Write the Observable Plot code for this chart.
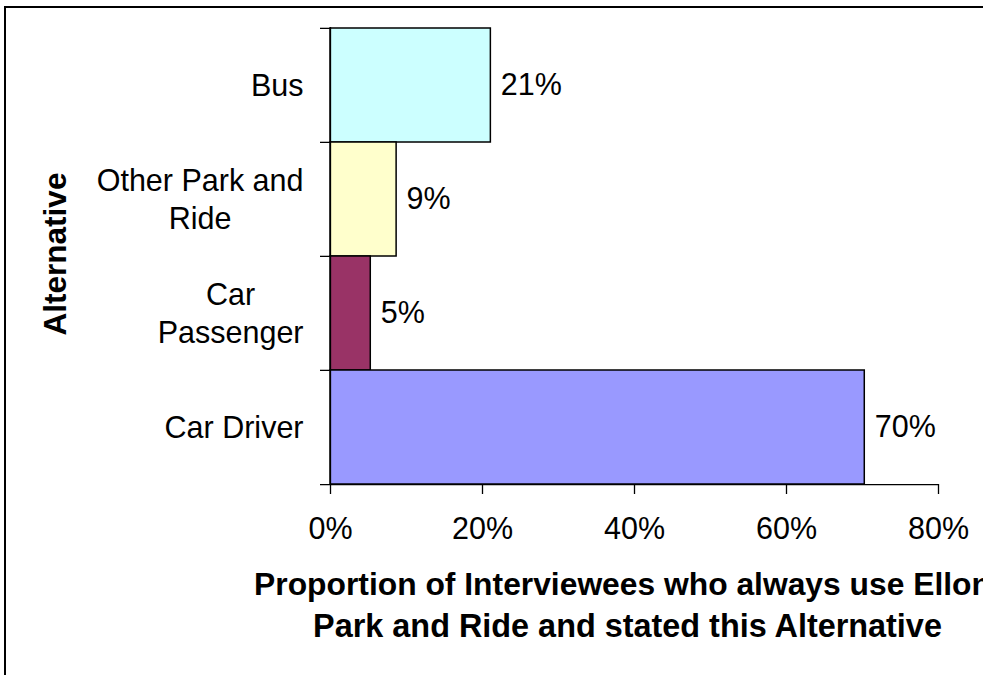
<!DOCTYPE html>
<html>
<head>
<meta charset="utf-8">
<script src="https://cdn.jsdelivr.net/npm/d3@7"></script>
<script src="https://cdn.jsdelivr.net/npm/@observablehq/plot@0.6"></script>
<style>
  html, body { margin: 0; padding: 0; background: #fff; overflow: hidden; width: 983px; height: 675px; }
  #frame { position: absolute; left: 4px; top: 6px; width: 1200px; height: 1000px; border: 2px solid #000; box-sizing: border-box; }
  #chart { position: absolute; left: 0; top: 0; }
</style>
</head>
<body>
<div id="frame"></div>
<div id="chart"></div>
<script>
const categories = ["Bus", "Other Park and Ride", "Car Passenger", "Car Driver"];
const categoryLines = [["Bus"], ["Other Park and", "Ride"], ["Car", "Passenger"], ["Car Driver"]];
const values = [21.1, 8.7, 5.3, 70.3];
const colors = ["#CCFFFF", "#FFFFCC", "#993366", "#9999FF"];
const xTicks = [0, 20, 40, 60, 80];
const xTitleLines = ["Proportion of Interviewees who always use Ellon", "Park and Ride and stated this Alternative"];
const yTitle = "Alternative";

const data = categories.map((c, i) => ({category: c, lines: categoryLines[i], value: values[i], color: colors[i]}));

const W = 983, H = 675;
const mL = 330, mR = 45, mT = 27, mB = 191;
const bw = (H - mT - mB) / categories.length;
const FONT = "Liberation Sans, Arial, Helvetica, sans-serif";
const fs = 30.5;

const ctx = document.createElement("canvas").getContext("2d");
ctx.font = `${fs}px "Liberation Sans"`;
const blockWidth = (lines) => Math.max(...lines.map(l => ctx.measureText(l).width));

const labelMarks = data.map(d =>
  Plot.text([d], {
    y: "category",
    text: r => r.lines.join("\n"),
    frameAnchor: "left",
    textAnchor: "middle",
    lineHeight: 1.24,
    fontSize: fs,
    fill: "#000",
    dy: -2,
    dx: -(27 + blockWidth(d.lines) / 2)
  })
);

const chart = Plot.plot({
  width: W,
  height: H,
  marginLeft: mL,
  marginRight: mR,
  marginTop: mT,
  marginBottom: mB,
  style: {fontFamily: FONT, background: "transparent", overflow: "visible", color: "#000"},
  x: {domain: [0, 80]},
  y: {domain: categories, padding: 0, axis: null},
  color: {type: "identity"},
  marks: [
    Plot.barX(data, {y: "category", x: "value", fill: "color", stroke: "#000", strokeWidth: 1.5}),
    Plot.text(data, {y: "category", x: "value", text: d => Math.round(d.value) + "%", textAnchor: "start", dx: 10, fontSize: fs, fill: "#000"}),
    // y axis line
    Plot.ruleX([0], {stroke: "#000", strokeWidth: 1.3}),
    // y ticks at band boundaries
    Plot.ruleY(data, {y: "category", x1: 0, x2: 0, insetLeft: -10, dy: -bw / 2, stroke: "#000", strokeWidth: 1.3}),
    // x axis line (bottom boundary)
    Plot.ruleY(data.slice(-1), {y: "category", x1: 0, x2: 80, insetLeft: -10, dy: bw / 2, stroke: "#000", strokeWidth: 1.3}),
    Plot.axisX({ticks: xTicks, tickSize: 10, tickPadding: 23, tickFormat: d => d + "%", fontSize: fs, label: null, stroke: "#000", strokeWidth: 1.3, strokeOpacity: 1}),
    ...labelMarks,
    Plot.text([xTitleLines[0]], {frameAnchor: "bottom", lineAnchor: "middle", dy: 100, dx: -12, fontSize: 31.8, fontWeight: "bold", fill: "#000"}),
    Plot.text([xTitleLines[1]], {frameAnchor: "bottom", lineAnchor: "middle", dy: 142, dx: -7, fontSize: 32.4, fontWeight: "bold", fill: "#000"}),
    Plot.text([yTitle], {frameAnchor: "left", textAnchor: "middle", rotate: -90, dx: -(mL - 55), dy: -2, fontSize: 31.5, fontWeight: "bold", fill: "#000"})
  ]
});
document.getElementById("chart").appendChild(chart);
</script>
</body>
</html>
